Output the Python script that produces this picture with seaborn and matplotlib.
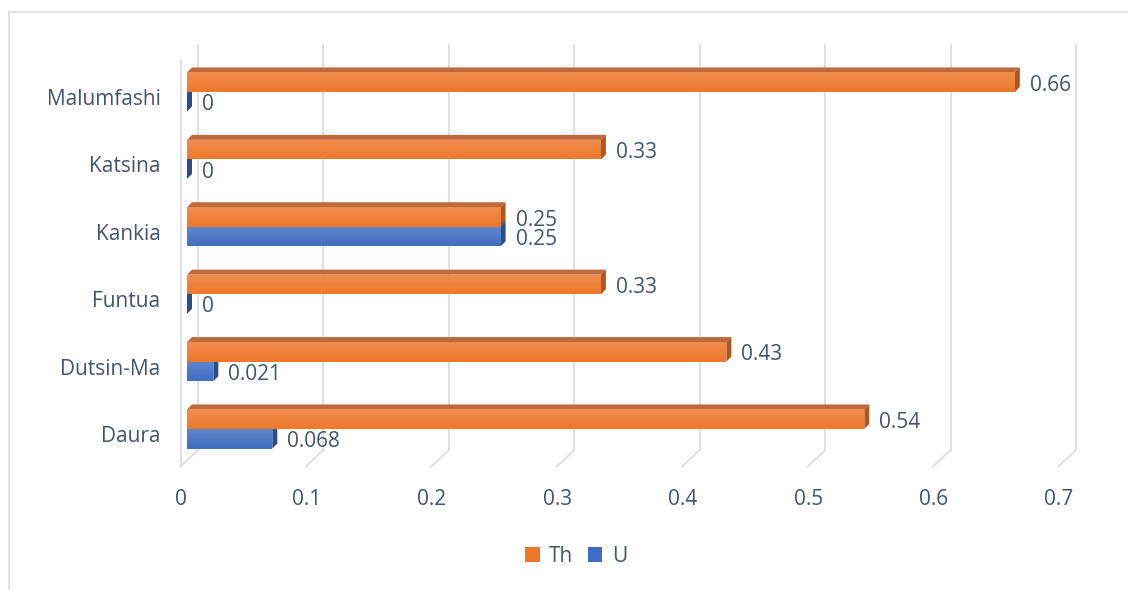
import matplotlib
matplotlib.use("Agg")
import matplotlib.pyplot as plt
import matplotlib.transforms as mtransforms
from matplotlib.patches import Polygon, Patch
from matplotlib.lines import Line2D
import seaborn as sns
import pandas as pd
import numpy as np

# ---- data ----
regions = ["Malumfashi", "Katsina", "Kankia", "Funtua", "Dutsin-Ma", "Daura"]
th_values = [0.66, 0.33, 0.25, 0.33, 0.43, 0.54]
u_values = [0, 0, 0.25, 0, 0.021, 0.068]
th_labels = ["0.66", "0.33", "0.25", "0.33", "0.43", "0.54"]
u_labels = ["0", "0", "0.25", "0", "0.021", "0.068"]
series = ["Th", "U"]
xticks = [0, 0.1, 0.2, 0.3, 0.4, 0.5, 0.6, 0.7]

colors = {"Th": "#EE7629", "U": "#3F6DC2"}
top_colors = {"Th": "#BE6A3C", "U": "#3A62A8"}
side_colors = {"Th": "#B0561F", "U": "#2A4D8C"}
text_color = "#44546A"
grid_color = "#DADDE3"
FS = 15

df = pd.DataFrame({
    "Region": regions * 2,
    "Value": th_values + u_values,
    "Series": ["Th"] * len(regions) + ["U"] * len(regions),
})

sns.set_theme(style="white")
plt.rcParams["font.family"] = ["Open Sans", "DejaVu Sans"]

W, H, DPI = 1128, 590, 100
fig = plt.figure(figsize=(W / DPI, H / DPI), dpi=DPI)
left_px, right_px, top_px, bot_px = 187, 1065, 45, 467
ax = fig.add_axes([left_px / W, 1 - bot_px / H, (right_px - left_px) / W, (bot_px - top_px) / H])

sns.barplot(data=df, y="Region", x="Value", hue="Series", order=regions,
            hue_order=series, palette=colors, orient="h", width=0.58,
            ax=ax, legend=False, saturation=1, zorder=3, linewidth=0)

spacing = 67.4
ymax = 5 + (bot_px - 429) / spacing
ymin = -(92 - top_px) / spacing
ax.set_xlim(0, 0.7)
ax.set_ylim(ymax, ymin)

# pixel -> data conversions
px_x = 0.7 / (right_px - left_px)
px_y = 1.0 / spacing
d = 5  # depth in pixels

# 3D faces + gradient + value labels
for cont, name, labels in zip(ax.containers, series, [th_labels, u_labels]):
    for patch, lab in zip(cont.patches, labels):
        x0 = patch.get_x()
        w = patch.get_width()
        x1 = x0 + w
        ytop = patch.get_y()          # smaller value = upper on screen (inverted axis)
        hgt = patch.get_height()
        ybot = ytop + hgt
        dx, dy = d * px_x, d * px_y
        ax.add_patch(Polygon([(x0, ytop), (x0 + dx, ytop - dy), (x1 + dx, ytop - dy), (x1, ytop)],
                             closed=True, facecolor=top_colors[name], edgecolor="none", zorder=2.9))
        ax.add_patch(Polygon([(x1, ytop), (x1 + dx, ytop - dy), (x1 + dx, ybot - dy), (x1, ybot)],
                             closed=True, facecolor=side_colors[name], edgecolor="none", zorder=2.9))
        nstep = 10
        for k in range(nstep):
            a = 0.16 * (1 - k / nstep)
            ya = ytop + hgt * k / nstep
            yb = ytop + hgt * (k + 1) / nstep
            ax.add_patch(Polygon([(x0, ya), (x1, ya), (x1, yb), (x0, yb)], closed=True,
                                 facecolor="white", alpha=a, edgecolor="none", zorder=3.1))
        ax.text(x1 + 15 * px_x, (ytop + ybot) / 2 + 3 * px_y, lab, va="center", ha="left",
                fontsize=FS, color=text_color, zorder=4)

# gridlines: back wall lines (offset right) and slanted floor lines
back = mtransforms.offset_copy(ax.transData, fig=fig, x=11, y=0, units="dots")
ylo_back = ymax - 17 * px_y
for v in xticks:
    ax.plot([v, v], [ymin, ylo_back], transform=back, color=grid_color, lw=1.3, zorder=1, clip_on=False)
    p_back = ax.transData.transform((v, ylo_back)) + np.array([11, 0])
    p_front = ax.transData.transform((v, ymax)) + np.array([-7, 0])
    ln = Line2D([p_back[0], p_front[0]], [p_back[1], p_front[1]], transform=None,
                color=grid_color, lw=1.3, zorder=1)
    ln.set_clip_on(False)
    ax.add_line(ln)
# left wall front edge
front = mtransforms.offset_copy(ax.transData, fig=fig, x=-6, y=0, units="dots")
ax.plot([0, 0], [ymin + 15 * px_y, ymax], transform=front, color=grid_color, lw=1.3, zorder=1, clip_on=False)

for s in ax.spines.values():
    s.set_visible(False)
ax.grid(False)
ax.set_xlabel("")
ax.set_ylabel("")
ax.set_xticks(xticks)
ax.set_xticklabels([f"{t:g}" for t in xticks])
ax.tick_params(axis="x", length=0, pad=16, labelsize=FS, labelcolor=text_color)
ax.tick_params(axis="y", length=0, pad=19, labelsize=FS, labelcolor=text_color)
shift_x = mtransforms.ScaledTranslation(-6 / DPI, 0, fig.dpi_scale_trans)
for lbl in ax.get_xticklabels():
    lbl.set_transform(lbl.get_transform() + shift_x)
shift_y = mtransforms.ScaledTranslation(0, -5 / DPI, fig.dpi_scale_trans)
for lbl in ax.get_yticklabels():
    lbl.set_transform(lbl.get_transform() + shift_y)

# legend
handles = [Patch(facecolor=colors[s], edgecolor="none", label=s) for s in series]
fig.legend(handles=handles, loc="center", bbox_to_anchor=(576 / W, 1 - 556 / H), ncol=2,
           frameon=False, fontsize=FS, labelcolor=text_color, handlelength=0.7,
           handleheight=0.7, handletextpad=0.45, columnspacing=0.7)

# chart area border (top and left visible)
fig.add_artist(Line2D([9 / W, 1], [1 - 12 / H, 1 - 12 / H], transform=fig.transFigure, color=grid_color, lw=1.2))
fig.add_artist(Line2D([9 / W, 9 / W], [0, 1 - 12 / H], transform=fig.transFigure, color=grid_color, lw=1.2))

fig.savefig("out.png", dpi=DPI, facecolor="white")
